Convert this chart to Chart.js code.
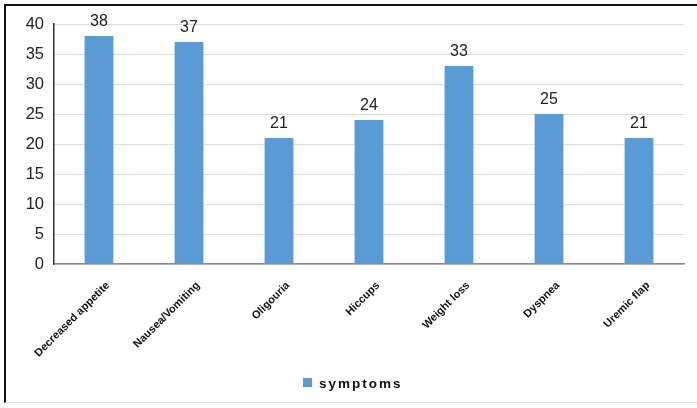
<!DOCTYPE html>
<html>
<head>
<meta charset="utf-8">
<script src="https://cdn.jsdelivr.net/npm/chart.js@4/dist/chart.umd.min.js"></script>
<style>
  html, body { margin: 0; padding: 0; background: #fff; }
  body { width: 697px; height: 408px; position: relative; overflow: hidden; }
  #frame {
    position: absolute; left: 4px; top: 4px; width: 693px; height: 399px;
    border-left: 2px solid #111; border-top: 2px solid #111; border-bottom: 1px solid #e4e4e4;
    box-sizing: border-box;
  }
  #wrap { position: absolute; left: 0; top: 0; width: 697px; height: 408px; }
</style>
</head>
<body>
<div id="frame"></div>
<div id="wrap"><canvas id="c" width="697" height="408"></canvas></div>
<script>
// Symptom counts
const categories = ['Decreased appetite', 'Nausea/Vomiting', 'Oligouria', 'Hiccups', 'Weight loss', 'Dyspnea', 'Uremic flap'];
const symptoms = [38, 37, 21, 24, 33, 25, 21];
const seriesName = 'symptoms';
const yTicks = [0, 5, 10, 15, 20, 25, 30, 35, 40];

const barColor = '#5B9BD5';

// Value printed above each bar
const valueLabels = {
  id: 'valueLabels',
  afterDatasetsDraw(chart) {
    const ctx = chart.ctx;
    const meta = chart.getDatasetMeta(0);
    ctx.save();
    ctx.font = '16px "Liberation Sans", Arial, sans-serif';
    ctx.fillStyle = '#222';
    ctx.textAlign = 'center';
    ctx.textBaseline = 'alphabetic';
    meta.data.forEach((bar, i) => {
      ctx.fillText(String(chart.data.datasets[0].data[i]), bar.x, bar.y - 10);
    });
    ctx.restore();
  }
};

// Series key under the axis labels
const seriesKey = {
  id: 'seriesKey',
  afterDraw(chart) {
    const ctx = chart.ctx;
    ctx.save();
    ctx.fillStyle = barColor;
    ctx.fillRect(303, 378, 9, 9);
    ctx.fillStyle = '#111';
    ctx.font = 'bold 13.5px "Liberation Sans", Arial, sans-serif';
    ctx.letterSpacing = '2px';
    ctx.textAlign = 'left';
    ctx.textBaseline = 'alphabetic';
    ctx.fillText(chart.data.datasets[0].label, 319, 388);
    ctx.restore();
  }
};

new Chart(document.getElementById('c'), {
  type: 'bar',
  data: {
    labels: categories,
    datasets: [{
      label: seriesName,
      data: symptoms,
      backgroundColor: barColor,
      borderWidth: 0,
      barPercentage: 0.64,
      categoryPercentage: 0.5
    }]
  },
  options: {
    responsive: false,
    animation: false,
    devicePixelRatio: 1,
    layout: { padding: { top: 24, right: 13, left: 0, bottom: 0 } },
    plugins: {
      legend: { display: false },
      tooltip: { enabled: false }
    },
    scales: {
      x: {
        grid: { display: false, drawTicks: false },
        border: { display: true, color: '#8a8a8a', width: 1.5 },
        ticks: {
          maxRotation: 45, minRotation: 45,
          color: '#111',
          padding: 15,
          labelOffset: 9,
          font: { family: '"Liberation Sans", Arial, sans-serif', size: 11, weight: 'bold' }
        },
        afterFit(scale) { scale.height = 144; }
      },
      y: {
        min: 0, max: 40,
        afterBuildTicks(scale) { scale.ticks = yTicks.map(v => ({ value: v })); },
        grid: { color: '#dcdcdc', lineWidth: 1, drawTicks: false },
        border: { display: true, color: '#333', width: 1.5 },
        ticks: {
          color: '#222',
          padding: 10,
          font: { family: '"Liberation Sans", Arial, sans-serif', size: 16.5 }
        },
        afterFit(scale) { scale.width = 54; }
      }
    }
  },
  plugins: [valueLabels, seriesKey]
});
</script>
</body>
</html>
